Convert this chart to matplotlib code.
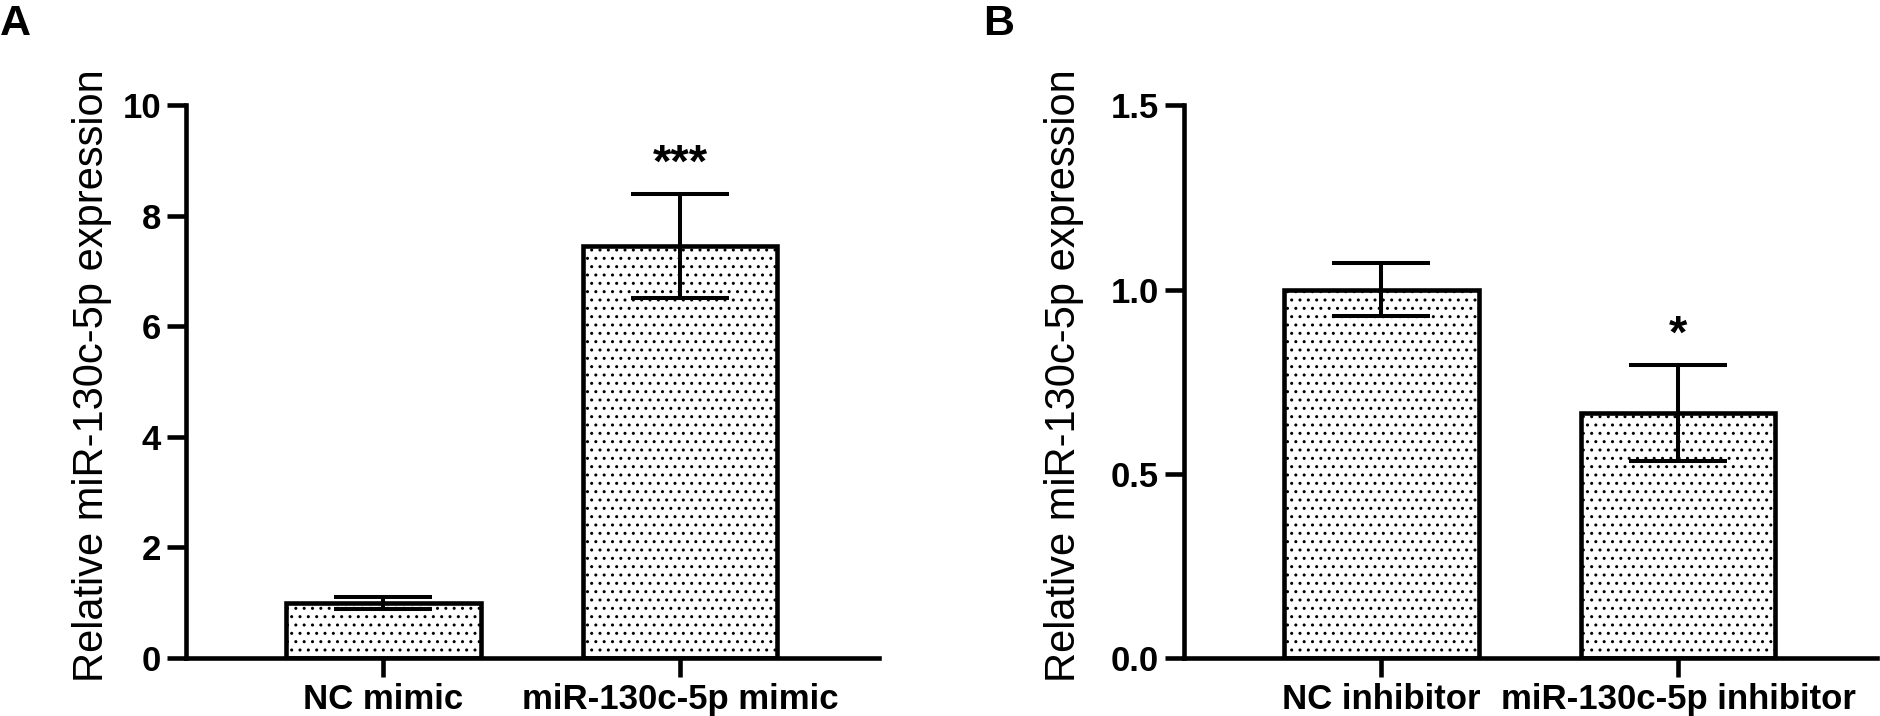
import matplotlib
matplotlib.use("Agg")
import matplotlib.pyplot as plt

plt.rcParams['font.family'] = ['Liberation Sans', 'DejaVu Sans']
plt.rcParams['hatch.linewidth'] = 1.0

# Panel A data
cats_a = ["NC mimic", "miR-130c-5p mimic"]
vals_a = [1.0, 7.45]
errs_a = [0.11, 0.94]
sig_a = ["", "***"]
yticks_a = [0, 2, 4, 6, 8, 10]
ylim_a = (0, 10)

# Panel B data
cats_b = ["NC inhibitor", "miR-130c-5p inhibitor"]
vals_b = [1.0, 0.665]
errs_b = [0.073, 0.13]
sig_b = ["", "*"]
yticks_b = [0.0, 0.5, 1.0, 1.5]
ylim_b = (0, 1.5)

ylabel = "Relative miR-130c-5p expression"

fig = plt.figure(figsize=(18.8, 7.16), dpi=100)

LW = 3.3

def panel(rect, cats, vals, errs, sig, yticks, ylim, fmt, label_x):
    ax = fig.add_axes(rect)
    x = list(range(len(cats)))
    ax.bar(x, vals, width=0.656, color='white', edgecolor='black',
           linewidth=LW, hatch='..', zorder=2)
    ax.errorbar(x, vals, yerr=errs, fmt='none', ecolor='black',
                elinewidth=2.9, capsize=35, capthick=2.9, zorder=3)
    for xi, v, e, s in zip(x, vals, errs, sig):
        if s:
            ax.annotate(s, (xi, v + e), xytext=(0, 21), textcoords='offset points',
                        ha='center', va='center', fontsize=34, fontweight='bold')
    ax.set_xlim(-0.665, 1.67)
    ax.set_ylim(*ylim)
    ax.set_yticks(yticks)
    ax.set_yticklabels([fmt.format(t) for t in yticks])
    ax.set_xticks(x)
    ax.set_xticklabels(cats)
    for sp in ['top', 'right']:
        ax.spines[sp].set_visible(False)
    for sp in ['left', 'bottom']:
        ax.spines[sp].set_linewidth(LW)
        ax.spines[sp].set_capstyle('projecting')
    ax.tick_params(axis='both', width=LW, length=14, labelsize=25, pad=4)
    for t in ax.get_xticklabels() + ax.get_yticklabels():
        t.set_fontweight('bold')
    ax.set_ylabel(ylabel, fontsize=30)
    ax.yaxis.set_label_coords(label_x, 0.51)
    ax.patch.set_alpha(0)
    return ax

axA = panel([0.0989, 0.081, 0.3686, 0.772], cats_a, vals_a, errs_a, sig_a,
            yticks_a, ylim_a, "{:d}", -0.106)
axB = panel([0.6298, 0.081, 0.3686, 0.772], cats_b, vals_b, errs_b, sig_b,
            yticks_b, ylim_b, "{:.1f}", -0.144)

fig.text(0.0, 1 - 4 / 716, "A", ha='left', va='top', fontsize=31, fontweight='bold')
fig.text(0.523, 1 - 4 / 716, "B", ha='left', va='top', fontsize=31, fontweight='bold')

fig.savefig("out.png", dpi=100)
